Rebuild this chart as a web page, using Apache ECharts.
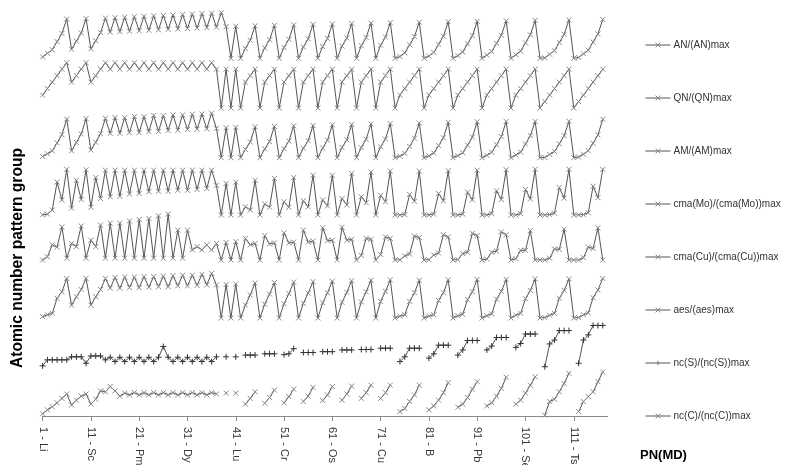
<!DOCTYPE html>
<html><head><meta charset="utf-8">
<script src="https://cdn.jsdelivr.net/npm/echarts@6/dist/echarts.min.js"></script>
<style>html,body{margin:0;padding:0;background:#fff}#c{width:785px;height:465px}</style>
</head><body><div id="c"></div>
<script>
const elements = ['Li','Na','K','Rb','Cs','Fr','Ca','Sr','Ba','Ra','Sc','Y','La','Ac','Ce','Th','Pr','Pa','Nd','U','Pm','Np','Sm','Pu','Eu','Am','Gd','Cm','Tb','Bk','Dy','Cf','Ho','Es','Er','Fm','Tm','Md','Yb','No','Lu','Lr','Ti','Zr','Hf','Rf','V','Nb','Ta','Db','Cr','Mo','W','Sg','Mn','Tc','Re','Bh','Fe','Ru','Os','Hs','Co','Rh','Ir','Mt','Ni','Pd','Pt','Ds','Cu','Ag','Au','Rg','Be','Mg','Zn','Cd','Hg','Cn','B','Al','Ga','In','Tl','Nh','C','Si','Ge','Sn','Pb','Fl','N','P','As','Sb','Bi','Mc','O','S','Se','Te','Po','Lv','H','F','Cl','Br','I','At','Ts','He','Ne','Ar','Kr','Xe','Rn','Og'];
const categories = elements.map((s, i) => (i + 1) + ' - ' + s);

const seriesNames = ['AN/(AN)max','QN/(QN)max','AM/(AM)max','cma(Mo)/(cma(Mo))max','cma(Cu)/(cma(Cu))max','aes/(aes)max','nc(S)/(nc(S))max','nc(C)/(nc(C))max'];

const anData = [0.030,0.109,0.188,0.366,0.545,0.861,
0.198,0.376,0.554,0.871,
0.208,0.386,0.564,0.881,
0.574,0.891,0.584,0.901,0.594,0.911,0.604,0.921,0.614,0.931,0.624,0.941,0.634,0.950,0.644,0.960,0.653,0.970,0.663,0.980,0.673,0.990,0.683,1.000,0.693,0,
0.703,0,
0.218,0.396,0.713,0, 0.228,0.406,0.723,0, 0.238,0.416,0.733,0, 0.248,0.426,0.743,0, 0.257,0.436,0.752,0, 0.267,0.446,0.762,0, 0.277,0.455,0.772,0, 0.287,0.465,0.782,0,
0.040,0.119,0.297,0.475,0.792,0,
0.050,0.129,0.307,0.485,0.802,0,
0.059,0.139,0.317,0.495,0.812,0,
0.069,0.149,0.327,0.505,0.822,0,
0.079,0.158,0.337,0.515,0.832,0,
0.010,0.089,0.168,0.347,0.525,0.842,0,
0.020,0.099,0.178,0.356,0.535,0.851,null];

const qnData = [0.286,0.429,0.571,0.714,0.857,1,
0.571,0.714,0.857,1,
0.571,0.714,0.857,1,
0.857,1,0.857,1,0.857,1,0.857,1,0.857,1,0.857,1,0.857,1,0.857,1,0.857,1,0.857,1,0.857,1,0.857,0,0.857,0,
0.857,0,
0.571,0.714,0.857,0, 0.571,0.714,0.857,0, 0.571,0.714,0.857,0, 0.571,0.714,0.857,0, 0.571,0.714,0.857,0, 0.571,0.714,0.857,0, 0.571,0.714,0.857,0, 0.571,0.714,0.857,0,
0.286,0.429,0.571,0.714,0.857,0,
0.286,0.429,0.571,0.714,0.857,0,
0.286,0.429,0.571,0.714,0.857,0,
0.286,0.429,0.571,0.714,0.857,0,
0.286,0.429,0.571,0.714,0.857,0,
0.143,0.286,0.429,0.571,0.714,0.857,0,
0.143,0.286,0.429,0.571,0.714,0.857,null];

const amData = [0.027,0.089,0.152,0.331,0.515,0.864,
0.155,0.340,0.532,0.876,
0.174,0.345,0.538,0.880,
0.543,0.899,0.546,0.896,0.559,0.923,0.562,0.919,0.583,0.946,0.589,0.942,0.609,0.957,0.616,0.957,0.630,0.973,0.639,0.977,0.648,0.996,0.655,0,0.671,0,
0.678,0,
0.186,0.354,0.692,0, 0.197,0.360,0.701,0, 0.202,0.372,0.713,0, 0.213,0.380,0.722,0, 0.216,0.392,0.737,0, 0.228,0.399,0.745,0, 0.227,0.412,0.756,0, 0.246,0.418,0.763,0,
0.035,0.094,0.253,0.436,0.777,0,
0.042,0.105,0.270,0.445,0.792,0,
0.047,0.109,0.282,0.460,0.803,0,
0.054,0.120,0.290,0.472,0.810,0,
0.062,0.124,0.306,0.495,0.810,0,
0.004,0.074,0.137,0.310,0.492,0.814,0,
0.016,0.078,0.155,0.325,0.509,0.860,null];

const cmaMoData = [0.005,0.02,0.11,0.72,0.33,1.0,
0.15,0.76,0.34,0.99,
0.17,0.82,0.36,0.98,
0.40,0.98,0.41,0.98,0.46,0.98,0.47,0.98,0.51,0.98,0.52,0.98,0.52,0.98,0.54,0.98,0.54,0.98,0.56,0.98,0.58,0.98,0.65,0,0.69,0,
0.72,0,
0.18,0.11,0.76,0, 0.24,0.17,0.80,0, 0.29,0.17,0.82,0, 0.31,0.18,0.87,0, 0.33,0.20,0.87,0, 0.36,0.22,0.91,0, 0.40,0.27,0.94,0, 0.43,0.29,0.96,0,
0,0.01,0.45,0.30,0.96,0,
0,0.02,0.47,0.31,0.97,0,
0,0.02,0.50,0.33,0.98,0,
0,0.03,0.53,0.34,0.99,0,
0,0.03,0.56,0.35,1.0,0,
0,0.01,0.04,0.60,0.37,1.0,0,
0,0.01,0.05,0.63,0.38,1.0,null];

const cmaCuData = [0,0.07,0.33,0.28,0.72,0.04,
0.36,0.29,0.74,0.04,
0.43,0.29,0.76,0.04,
0.80,0.04,0.80,0.04,0.85,0.04,0.88,0.04,0.90,0.04,0.96,0.04,1.0,0.04,0.65,0.04,0.65,0.22,0.29,0.22,0.33,0.22,0.36,0,0.38,0,
0.40,0,
0.47,0.33,0.36,0, 0.53,0.35,0.37,0, 0.59,0.37,0.39,0, 0.65,0.39,0.41,0, 0.70,0.42,0.43,0, 0.71,0.43,0.45,0, 0.10,0.47,0.45,0, 0.12,0.50,0.47,0,
0.003,0.09,0.13,0.52,0.49,0,
0.005,0.11,0.15,0.55,0.50,0,
0.01,0.14,0.17,0.58,0.53,0,
0.02,0.17,0.19,0.61,0.55,0,
0.03,0.21,0.21,0.64,0,0,
0,0.04,0.24,0.23,0.67,0,0,
0,0.05,0.28,0.25,0.70,0,null];

const aesData = [0.03,0.07,0.10,0.43,0.57,0.86,
0.28,0.46,0.62,0.86,
0.28,0.46,0.62,0.86,
0.65,0.88,0.65,0.89,0.66,0.89,0.66,0.90,0.67,0.90,0.68,0.91,0.68,0.92,0.70,0.93,0.70,0.93,0.71,0.95,0.72,0.97,0.72,0,0.73,0,
0.74,0,
0.28,0.50,0.76,0, 0.30,0.52,0.77,0, 0.31,0.53,0.78,0, 0.32,0.54,0.79,0, 0.33,0.55,0.80,0, 0.34,0.56,0.81,0, 0.35,0.57,0.82,0, 0.36,0.58,0.83,0,
0.04,0.07,0.36,0.55,0.82,0,
0.04,0.07,0.38,0.55,0.83,0,
0.05,0.08,0.40,0.57,0.84,0,
0.05,0.09,0.41,0.58,0.84,0,
0.06,0.10,0.42,0.60,0.85,0,
0.01,0.06,0.10,0.43,0.60,0.85,0,
0.01,0.07,0.11,0.44,0.61,0.86,null];

const ncSData = [0.05,0.19,0.19,0.19,0.19,0.19,
0.26,0.26,0.26,0.11,
0.28,0.28,0.28,0.19,
0.25,0.15,0.25,0.15,0.25,0.15,0.25,0.15,0.25,0.15,0.25,0.5,0.25,0.15,0.25,0.15,0.25,0.15,0.25,0.15,0.25,0.15,0.26,null,0.26,null,
0.26,null,
0.30,0.30,0.30,null, 0.33,0.33,0.33,null, 0.31,0.33,0.45,null, 0.36,0.36,0.36,null, 0.38,0.38,0.38,null, 0.42,0.42,0.42,null, 0.43,0.43,0.43,null, 0.46,0.46,0.46,null,
0.15,0.26,0.46,0.46,0.46,null,
0.23,0.33,0.53,0.53,0.53,null,
0.30,0.42,0.64,0.64,0.64,null,
0.42,0.51,0.71,0.71,0.71,null,
0.48,0.57,0.79,0.79,0.79,null,
0.03,0.56,0.65,0.87,0.87,0.87,null,
0.11,0.65,0.77,0.99,0.99,0.99,null];

const ncCData = [0.05,0.14,0.21,0.30,0.40,0.50,
0.25,0.36,0.45,0.50,
0.27,0.38,0.57,0.55,
0.67,0.57,0.45,0.52,0.48,0.53,0.48,0.53,0.48,0.53,0.48,0.53,0.48,0.53,0.48,0.53,0.48,0.53,0.48,0.53,0.48,0.53,0.50,null,0.52,null,
0.52,null,
0.27,0.40,0.55,null, 0.29,0.42,0.59,null, 0.30,0.44,0.61,null, 0.33,0.45,0.65,null, 0.35,0.48,0.67,null, 0.36,0.50,0.68,null, 0.40,0.53,0.70,null, 0.40,0.53,0.70,null,
0.10,0.17,0.33,0.48,0.70,null,
0.14,0.23,0.36,0.53,0.76,null,
0.20,0.27,0.42,0.61,0.78,null,
0.23,0.30,0.45,0.63,0.88,null,
0.27,0.36,0.52,0.70,0.89,null,
0.02,0.33,0.38,0.55,0.74,0.97,null,
0.10,0.33,0.44,0.55,0.78,1.0,null];

const allData = [anData, qnData, amData, cmaMoData, cmaCuData, aesData, ncSData, ncCData];

// layout (pixel bands: top = value 1, bottom = value 0)
const bands = [[12.7,58.3],[62.7,108],[113,157.7],[169.3,215],[214,260],[272,318],[325,368],[372,416]];
const gridLeft = 42.6, gridWidth = 565;
const X_SYM = 'path://M0,0L10,10M10,0L0,10';
const PLUS_SYM = 'path://M5,0L5,10M0,5L10,5';
const FONT = 'Liberation Sans, Arial, sans-serif';

const grids = [], xAxes = [], yAxes = [], series = [];
bands.forEach((b, k) => {
  const last = k === bands.length - 1;
  grids.push({ left: gridLeft, width: gridWidth, top: b[0], height: b[1] - b[0],
    containLabel: false, outerBoundsMode: 'none' });
  xAxes.push({
    gridIndex: k, type: 'category', data: categories, boundaryGap: false,
    show: last, offset: last ? 2 : 0,
    axisLine: { show: last, lineStyle: { color: '#8a8a8a', width: 1 } },
    axisTick: { show: last, interval: 9, length: 5, inside: false, lineStyle: { color: '#8a8a8a' } },
    axisLabel: { show: last, interval: 9, rotate: -90, margin: 9, fontSize: 11, color: '#3a3340', fontFamily: FONT },
    splitLine: { show: false }
  });
  yAxes.push({ gridIndex: k, type: 'value', min: 0, max: 1, show: false, splitLine: { show: false } });
  const plus = k === 6;
  series.push({
    name: seriesNames[k], type: 'line', xAxisIndex: k, yAxisIndex: k,
    data: allData[k], connectNulls: false,
    symbol: plus ? PLUS_SYM : X_SYM, symbolSize: plus ? 6 : 5,
    showAllSymbol: true,
    lineStyle: { color: '#555', width: 1 },
    itemStyle: { color: 'rgba(0,0,0,0)', borderColor: plus ? '#333' : '#888', borderWidth: 1 },
    emphasis: { disabled: true },
    animation: false
  });
});

const chart = echarts.init(document.getElementById('c'), null, { renderer: 'canvas' });
chart.setOption({
  animation: false,
  backgroundColor: '#ffffff',
  grid: grids, xAxis: xAxes, yAxis: yAxes, series: series,
  legend: {
    orient: 'vertical', left: 645, top: 40, itemWidth: 25, itemHeight: 6, itemGap: 43,
    padding: 0, selectedMode: false,
    itemStyle: { color: 'rgba(0,0,0,0)', borderColor: '#888', borderWidth: 1 },
    lineStyle: { color: '#555', width: 1 },
    textStyle: { fontSize: 10, color: '#333', fontFamily: FONT, padding: [0, 0, 0, -2] },
    data: seriesNames
  },
  graphic: [
    { type: 'text', left: 10, top: 148, rotation: Math.PI / 2, originX: 0, originY: 0,
      style: { text: 'Atomic number pattern group', font: 'bold 15.6px ' + FONT, fill: '#000' } },
    { type: 'text', left: 640, top: 449,
      style: { text: 'PN(MD)', font: 'bold 13px ' + FONT, fill: '#000' } }
  ]
});
</script></body></html>
